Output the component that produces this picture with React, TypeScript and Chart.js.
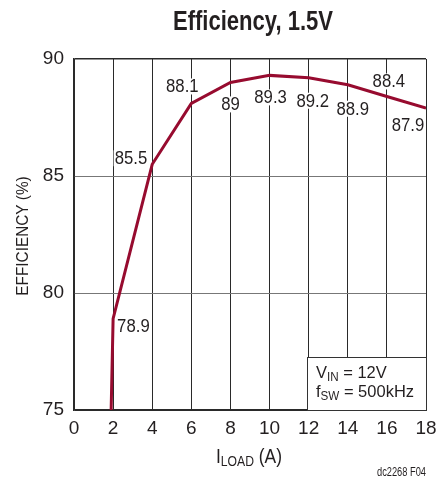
import React, { useEffect, useRef } from "react";
import { Chart, registerables } from "chart.js";

Chart.register(...registerables);

const loadCurrent = [1.9, 2, 4, 6, 8, 10, 12, 14, 16, 18];
const efficiency = [75, 78.9, 85.5, 88.1, 89, 89.3, 89.2, 88.9, 88.4, 87.9];
const pointLabels = ["", "78.9", "85.5", "88.1", "89", "89.3", "89.2", "88.9", "88.4", "87.9"];
const xTicks = [0, 2, 4, 6, 8, 10, 12, 14, 16, 18];
const yTicks = [75, 80, 85, 90];

const TITLE = "Efficiency, 1.5V";
const Y_TITLE = "EFFICIENCY (%)";
const FOOTNOTE = "dc2268 F04";

const FONT = "'Liberation Sans', Arial, sans-serif";
const TEXT_COLOR = "#231f20";
const LINE_COLOR = "#970b2f";

// label placement relative to point: [dx, dy, align]
const labelOffsets: [number, number, CanvasTextAlign][] = [
  [0, 0, "left"],
  [4, 7, "left"],
  [-5, -6, "right"],
  [-9, -17, "center"],
  [0, 22, "center"],
  [1, 22, "center"],
  [4, 23, "center"],
  [5, 24, "center"],
  [2, -15, "center"],
  [-18, 17, "center"],
];

function drawScaled(ctx: CanvasRenderingContext2D, text: string, x: number, y: number, sx: number, align: "left" | "center" | "right") {
  const w = ctx.measureText(text).width * sx;
  let left = x;
  if (align === "center") left = x - w / 2;
  if (align === "right") left = x - w;
  ctx.save();
  ctx.translate(left, y);
  ctx.scale(sx, 1);
  ctx.textAlign = "left";
  ctx.fillText(text, 0, 0);
  ctx.restore();
  return w;
}

const textPlugin = {
  id: "textPlugin",
  beforeDatasetsDraw(chart: any) {
    const ctx: CanvasRenderingContext2D = chart.ctx;
    const xs = chart.scales.x;
    const ys = chart.scales.y;
    const area = chart.chartArea;
    ctx.save();
    ctx.font = `18px ${FONT}`;
    ctx.textBaseline = "middle";
    const sx = 0.93;
    pointLabels.forEach((t, i) => {
      if (!t) return;
      const [dx, dy, align] = labelOffsets[i];
      const px = xs.getPixelForValue(loadCurrent[i]) + dx;
      const py = ys.getPixelForValue(efficiency[i]) + dy;
      const w = ctx.measureText(t).width * sx;
      let left = px;
      if (align === "center") left = px - w / 2;
      if (align === "right") left = px - w;
      ctx.fillStyle = "#fff";
      ctx.fillRect(left - 1, py - 8, w + 2, 16);
      ctx.fillStyle = TEXT_COLOR;
      drawScaled(ctx, t, px, py + 1, sx, align as any);
    });

    // annotation box
    const bx = Math.round(xs.getPixelForValue(11.92));
    const by = Math.round(ys.getPixelForValue(77.27));
    ctx.fillStyle = "#fff";
    ctx.fillRect(bx, by, area.right - bx, area.bottom - by);
    ctx.strokeStyle = "#333";
    ctx.lineWidth = 1;
    ctx.strokeRect(bx + 0.5, by + 0.5, area.right - bx, area.bottom - by);
    ctx.fillStyle = TEXT_COLOR;
    ctx.textAlign = "left";
    ctx.textBaseline = "alphabetic";
    const drawSub = (x: number, y: number, main: string, sub: string, rest: string) => {
      ctx.font = `17px ${FONT}`;
      let cx = x + drawScaled(ctx, main, x, y, 0.97, "left");
      ctx.font = `12px ${FONT}`;
      cx += drawScaled(ctx, sub, cx, y + 3, 0.97, "left");
      ctx.font = `17px ${FONT}`;
      drawScaled(ctx, rest, cx, y, 0.97, "left");
    };
    drawSub(bx + 9, 378, "V", "IN", " = 12V");
    drawSub(bx + 9, 397, "f", "SW", " = 500kHz");
    ctx.restore();
  },
  afterDraw(chart: any) {
    const ctx: CanvasRenderingContext2D = chart.ctx;
    const area = chart.chartArea;
    ctx.save();
    ctx.fillStyle = TEXT_COLOR;
    ctx.textBaseline = "alphabetic";
    // title
    ctx.font = `bold 28px ${FONT}`;
    const tw = ctx.measureText(TITLE).width;
    drawScaled(ctx, TITLE, 253, 30, 160 / tw, "center");
    // y title
    ctx.save();
    ctx.translate(28, 236);
    ctx.rotate(-Math.PI / 2);
    ctx.font = `16px ${FONT}`;
    drawScaled(ctx, Y_TITLE, 0, 0, 0.96, "center");
    ctx.restore();
    // x title with subscript
    const sx = 0.87;
    const parts: [string, number, number][] = [
      ["I", 20, 0],
      ["LOAD", 14, 3],
      [" (A)", 20, 0],
    ];
    let total = 0;
    parts.forEach(([t, s]) => {
      ctx.font = `${s}px ${FONT}`;
      total += ctx.measureText(t).width * sx;
    });
    let x = 249 - total / 2;
    parts.forEach(([t, s, off]) => {
      ctx.font = `${s}px ${FONT}`;
      x += drawScaled(ctx, t, x, 463 + off, sx, "left");
    });
    // footnote
    ctx.font = `12px ${FONT}`;
    const fw = ctx.measureText(FOOTNOTE).width;
    drawScaled(ctx, FOOTNOTE, area.right, 476, 49 / fw, "right");
    ctx.restore();
  },
};

export default function App() {
  const ref = useRef<HTMLCanvasElement>(null);
  useEffect(() => {
    const canvas = ref.current;
    if (!canvas) return;
    const chart = new Chart(canvas, {
      type: "line",
      data: {
        datasets: [
          {
            data: loadCurrent.map((x, i) => ({ x, y: efficiency[i] })),
            borderColor: LINE_COLOR,
            borderWidth: 3,
            pointRadius: 0,
            tension: 0,
            fill: false,
          },
        ],
      },
      options: {
        responsive: false,
        animation: false,
        layout: { padding: { left: 0, top: 59, right: 11, bottom: 0 } },
        plugins: { legend: { display: false }, tooltip: { enabled: false }, title: { display: false } },
        scales: {
          x: {
            type: "linear",
            min: 0,
            max: 18,
            afterBuildTicks: (s: any) => {
              s.ticks = xTicks.map((v) => ({ value: v }));
            },
            afterFit: (s: any) => {
              s.height = 69;
              s.paddingLeft = 0;
              s.paddingRight = 0;
            },
            grid: {
              color: "#2a2a2a",
              lineWidth: 1,
              drawTicks: false,
            },
            border: { display: true, color: "#2a2a2a", width: 1.5 },
            ticks: {
              padding: 7,
              color: TEXT_COLOR,
              font: { family: FONT, size: 19 },
              maxRotation: 0,
              autoSkip: false,
            },
          },
          y: {
            type: "linear",
            min: 75,
            max: 90,
            afterBuildTicks: (s: any) => {
              s.ticks = yTicks.map((v) => ({ value: v }));
            },
            afterFit: (s: any) => {
              s.width = 74;
              s.paddingTop = 0;
              s.paddingBottom = 0;
            },
            grid: {
              color: (c: any) => (c.tick && (c.tick.value === 90 || c.tick.value === 75) ? "#2a2a2a" : "#777"),
              lineWidth: (c: any) => (c.tick && c.tick.value === 90 ? 1.5 : 1),
              drawTicks: false,
            },
            border: { display: true, color: "#2a2a2a", width: 1.5 },
            ticks: {
              padding: 10,
              color: TEXT_COLOR,
              font: { family: FONT, size: 19 },
            },
          },
        },
      },
      plugins: [textPlugin],
    });
    return () => chart.destroy();
  }, []);
  return (
    <div style={{ position: "fixed", left: 0, top: 0, width: 437, height: 479, background: "#fff" }}>
      <canvas ref={ref} width={437} height={479} style={{ width: 437, height: 479 }} />
    </div>
  );
}
